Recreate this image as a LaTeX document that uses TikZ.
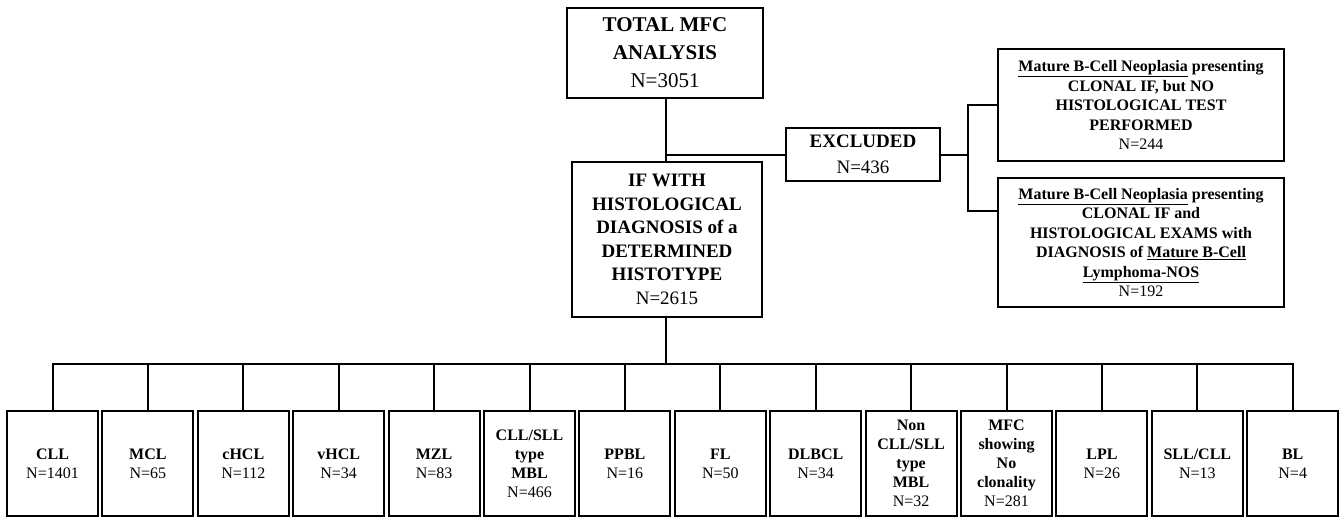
\documentclass[tikz,border=0pt]{standalone}
\usepackage{fontspec}
\setmainfont{Liberation Serif}
\begin{document}
\begin{tikzpicture}[x=1pt,y=-1pt,
  box/.style={draw=black,line width=2pt,inner sep=0pt,align=center,fill=white},
  conn/.style={line width=2pt,line cap=rect},
  topfont/.style={font=\fontsize{21}{28}\selectfont},
  midfont/.style={font=\fontsize{19}{23.5}\selectfont},
  sidefont/.style={font=\fontsize{16}{19.5}\selectfont},
  botfont/.style={font=\fontsize{16}{19}\selectfont},
  bbox/.style={box,botfont,minimum width=91pt,minimum height=105pt}]
\useasboundingbox (0,0) rectangle (1341,517);
% top boxes
\node[box,topfont,minimum width=196pt,minimum height=90pt] (top) at (665,53)
  {\textbf{TOTAL MFC}\\\textbf{ANALYSIS}\\N=3051};
\node[box,midfont,minimum width=190pt,minimum height=155pt] (ifb) at (667,239.5)
  {\textbf{IF WITH}\\\textbf{HISTOLOGICAL}\\\textbf{DIAGNOSIS of a}\\\textbf{DETERMINED}\\\textbf{HISTOTYPE}\\N=2615};
\node[box,minimum width=154pt,minimum height=53pt,font=\fontsize{19}{26}\selectfont] (exc) at (863,154.5)
  {\textbf{EXCLUDED}\\N=436};
\node[box,sidefont,minimum width=286pt,minimum height=112pt] (r1) at (1141,105)
  {\textbf{\underline{Mature B-Cell Neoplasia} presenting}\\\textbf{CLONAL IF, but NO}\\\textbf{HISTOLOGICAL TEST}\\\textbf{PERFORMED}\\N=244};
\node[box,sidefont,minimum width=286pt,minimum height=129pt] (r2) at (1141,242.5)
  {\textbf{\underline{Mature B-Cell Neoplasia} presenting}\\\textbf{CLONAL IF and}\\\textbf{HISTOLOGICAL EXAMS with}\\\textbf{DIAGNOSIS of \underline{Mature B-Cell}}\\\textbf{\underline{Lymphoma-NOS}}\\N=192};
% bottom boxes
\node[bbox] (b1) at (52.5,463.5) {\textbf{CLL}\\N=1401};
\node[bbox] (b2) at (147.9,463.5) {\textbf{MCL}\\N=65};
\node[bbox] (b3) at (243.3,463.5) {\textbf{cHCL}\\N=112};
\node[bbox] (b4) at (338.7,463.5) {\textbf{vHCL}\\N=34};
\node[bbox] (b5) at (434.1,463.5) {\textbf{MZL}\\N=83};
\node[bbox] (b6) at (529.5,463.5) {\textbf{CLL/SLL}\\\textbf{type}\\\textbf{MBL}\\N=466};
\node[bbox] (b7) at (624.9,463.5) {\textbf{PPBL}\\N=16};
\node[bbox] (b8) at (720.3,463.5) {\textbf{FL}\\N=50};
\node[bbox] (b9) at (815.7,463.5) {\textbf{DLBCL}\\N=34};
\node[bbox] (b10) at (911.1,463.5) {\textbf{Non}\\\textbf{CLL/SLL}\\\textbf{type}\\\textbf{MBL}\\N=32};
\node[bbox] (b11) at (1006.5,463.5) {\textbf{MFC}\\\textbf{showing}\\\textbf{No}\\\textbf{clonality}\\N=281};
\node[bbox] (b12) at (1101.9,463.5) {\textbf{LPL}\\N=26};
\node[bbox] (b13) at (1197.3,463.5) {\textbf{SLL/CLL}\\N=13};
\node[bbox] (b14) at (1292.7,463.5) {\textbf{BL}\\N=4};
% connectors
\coordinate (bus) at (666,363.5);
\coordinate (br) at (968,154.5);
\draw[conn] (top.south -| bus) -- (ifb.north -| bus);
\draw[conn] (exc.west) -- (exc.west -| bus);
\draw[conn] (exc.east) -- (br);
\draw[conn] (r1.west) -| (br);
\draw[conn] ([yshift=31.5pt]r2.west) -| (br);
\draw[conn] (ifb.south -| bus) -- (bus);
\draw[conn] (b1.north |- bus) -- (b14.north |- bus);
\foreach \i in {1,...,14}{\draw[conn] (b\i.north) -- (b\i.north |- bus);}
\end{tikzpicture}
\end{document}
